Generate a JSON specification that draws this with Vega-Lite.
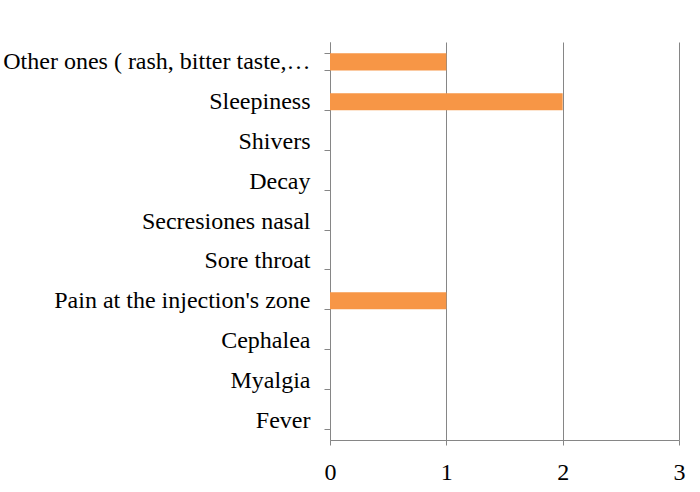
{
  "$schema": "https://vega.github.io/schema/vega-lite/v6.json",
  "width": 349,
  "height": 398,
  "autosize": {"type": "none"},
  "padding": {"left": 330, "top": 42, "right": 21, "bottom": 52},
  "background": "white",
  "config": {
    "view": {"stroke": null},
    "font": "Liberation Serif",
    "axis": {
      "labelFont": "Liberation Serif",
      "labelFontSize": 24,
      "labelColor": "#000000",
      "domainColor": "#868686",
      "tickColor": "#868686",
      "gridColor": "#868686",
      "domainWidth": 1,
      "tickWidth": 1,
      "gridWidth": 1
    }
  },
  "data": {
    "values": [
      {"symptom": "Other ones ( rash, bitter taste,…", "count": 1},
      {"symptom": "Sleepiness", "count": 2},
      {"symptom": "Shivers", "count": 0},
      {"symptom": "Decay", "count": 0},
      {"symptom": "Secresiones nasal", "count": 0},
      {"symptom": "Sore throat", "count": 0},
      {"symptom": "Pain at the injection's zone", "count": 1},
      {"symptom": "Cephalea", "count": 0},
      {"symptom": "Myalgia", "count": 0},
      {"symptom": "Fever", "count": 0}
    ]
  },
  "mark": {"type": "bar", "color": "#F79646"},
  "encoding": {
    "y": {
      "field": "symptom",
      "type": "nominal",
      "sort": null,
      "title": null,
      "scale": {"paddingInner": 0.57, "paddingOuter": 0.285},
      "axis": {
        "domain": true,
        "ticks": true,
        "tickBand": "extent",
        "tickSize": 6,
        "labelPadding": 14,
        "labelLimit": 400,
        "grid": false
      }
    },
    "x": {
      "field": "count",
      "type": "quantitative",
      "title": null,
      "scale": {"domain": [0, 3], "nice": false},
      "axis": {
        "values": [0, 1, 2, 3],
        "format": "d",
        "tickSize": 5,
        "labelPadding": 15,
        "labelFlush": false,
        "grid": true
      }
    }
  }
}
